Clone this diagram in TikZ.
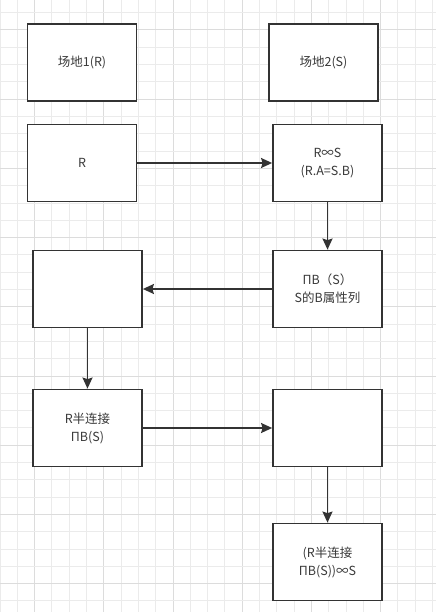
\documentclass[tikz,border=0pt]{standalone}
\usepackage{fontspec}
\setmainfont{Noto Sans CJK SC}
\usetikzlibrary{arrows.meta}
\definecolor{gridminor}{HTML}{EBEBEB}
\definecolor{gridmajor}{HTML}{DCDCDC}
\definecolor{ink}{HTML}{333333}
\definecolor{txt}{HTML}{3A3A3A}
\tikzset{
  box/.style={draw=ink, line width=1.8bp, fill=white, minimum width=109bp, minimum height=77bp,
    inner sep=0pt, align=center, text=txt, font=\fontsize{12.5bp}{18bp}\selectfont},
  conn/.style={draw=ink, line width=1.6bp, -{Stealth[length=11bp,width=10bp,inset=1.5bp]}}
}
\begin{document}
\begin{tikzpicture}[x={(1bp,0)}, y={(0,-1bp)}]
\useasboundingbox (0,0) rectangle (436,612);
\fill[white] (0,0) rectangle (436,612);
% grid
\foreach \k in {0,...,26} {
  \pgfmathsetmacro{\xx}{17.3*\k}
  \pgfmathtruncatemacro{\m}{mod(\k,4)}
  \ifnum\m=2 \draw[gridmajor, line width=1bp] (\xx,0) -- (\xx,612);
  \else \draw[gridminor, line width=1bp] (\xx,0) -- (\xx,612); \fi
}
\foreach \k in {0,...,35} {
  \pgfmathsetmacro{\yy}{-4.6+17.3*\k}
  \pgfmathtruncatemacro{\m}{mod(\k,4)}
  \ifnum\m=2 \draw[gridmajor, line width=1bp] (0,\yy) -- (436,\yy);
  \else \draw[gridminor, line width=1bp] (0,\yy) -- (436,\yy); \fi
}
% boxes
\node[box] (s1) at (82,62.5) {场地1(R)};
\node[box] (s2) at (323.5,62.5) {场地2(S)};
\node[box] (r) at (82,163) {R};
\node[box] (rs) at (327.5,163) {R∞S\\(R.A=S.B)};
\node[box] (bl) at (87.5,289) {};
\node[box] (pb) at (327.5,289) {ΠB（S）\\S的B属性列};
\node[box] (semi) at (87.5,428) {R半连接\\ΠB(S)};
\node[box] (bl2) at (327.5,428) {};
\node[box] (fin) at (327.5,562) {(R半连接\\ΠB(S))∞S};
% connectors
\draw[conn] (r.east) -- (rs.west);
\draw[conn] (rs.south) -- (pb.north);
\draw[conn] (pb.west) -- (bl.east);
\draw[conn] (bl.south) -- (semi.north);
\draw[conn] (semi.east) -- (bl2.west);
\draw[conn] (bl2.south) -- (fin.north);
\end{tikzpicture}
\end{document}
